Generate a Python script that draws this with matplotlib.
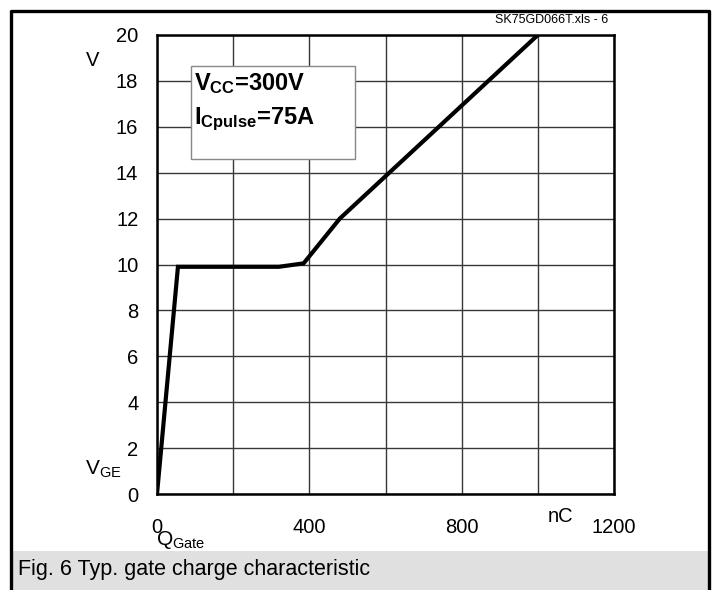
import matplotlib.pyplot as plt
from matplotlib.patches import Rectangle

# gate charge curve
q_gate = [0, 55, 320, 385, 480, 1000]
v_ge = [0, 9.9, 9.9, 10.05, 12.0, 20]

x_ticks = [0, 400, 800, 1200]
y_ticks = [0, 2, 4, 6, 8, 10, 12, 14, 16, 18, 20]

plt.rcParams['font.family'] = ['Liberation Sans', 'DejaVu Sans']
plt.rcParams['mathtext.fontset'] = 'custom'
plt.rcParams['mathtext.rm'] = 'Liberation Sans'
plt.rcParams['mathtext.bf'] = 'Liberation Sans:bold'

W, H = 717, 590
fig = plt.figure(figsize=(W / 100, H / 100), dpi=100)


def px(x, y):
    # pixel position -> figure fraction
    return x / W, 1 - y / H


# outer frame and caption band
fig.patches.append(Rectangle((13 / W, 0), 695 / W, 39 / H, transform=fig.transFigure,
                             facecolor='#e0e0e0', edgecolor='none'))
fig.lines.append(plt.Line2D([11 / W, 11 / W, 709 / W, 709 / W], [0, 1 - 11 / H, 1 - 11 / H, 0],
                            transform=fig.transFigure, color='black', lw=2.4))
fig.text(*px(18, 570), 'Fig. 6 Typ. gate charge characteristic', fontsize=15.5, va='center')
fig.text(*px(552, 20), 'SK75GD066T.xls - 6', fontsize=9, ha='center', va='center')

l, r, t, b = 157, 614, 35, 494
ax = fig.add_axes([l / W, 1 - b / H, (r - l) / W, (b - t) / H])
ax.set_xlim(0, 1200)
ax.set_ylim(0, 20)
ax.set_xticks(range(0, 1201, 200))
ax.set_xticklabels([str(v) if v in x_ticks else '' for v in range(0, 1201, 200)])
ax.set_yticks(y_ticks)
ax.tick_params(length=0, labelsize=14.5)
ax.tick_params(axis='x', pad=17)
ax.tick_params(axis='y', pad=13.5)
ax.grid(True, color='#383838', lw=1.0)
for s in ax.spines.values():
    s.set_linewidth(1.8)

ax.plot(q_gate, v_ge, color='black', lw=3.0, solid_joinstyle='miter', zorder=3)

ax.add_patch(Rectangle((88, 14.6), 432, 4.06, facecolor='white', edgecolor='#888888',
                       lw=1.0, zorder=2))
ax.text(97, 17.6, r'$\mathbf{V_{CC}}$=300V', fontsize=17, fontweight='bold',
        va='baseline', zorder=4)
ax.text(97, 16.12, r'$\mathbf{I_{Cpulse}}$=75A', fontsize=17, fontweight='bold',
        va='baseline', zorder=4)

fig.text(*px(86, 60), 'V', fontsize=14.5, va='center')
fig.text(*px(85, 474), r'V$_{\mathrm{GE}}$', fontsize=15, va='baseline')
fig.text(*px(156, 545), r'Q$_{\mathrm{Gate}}$', fontsize=15, va='baseline')
fig.text(*px(548, 517), 'nC', fontsize=14.5, va='center')

fig.savefig('out.png', dpi=100)
